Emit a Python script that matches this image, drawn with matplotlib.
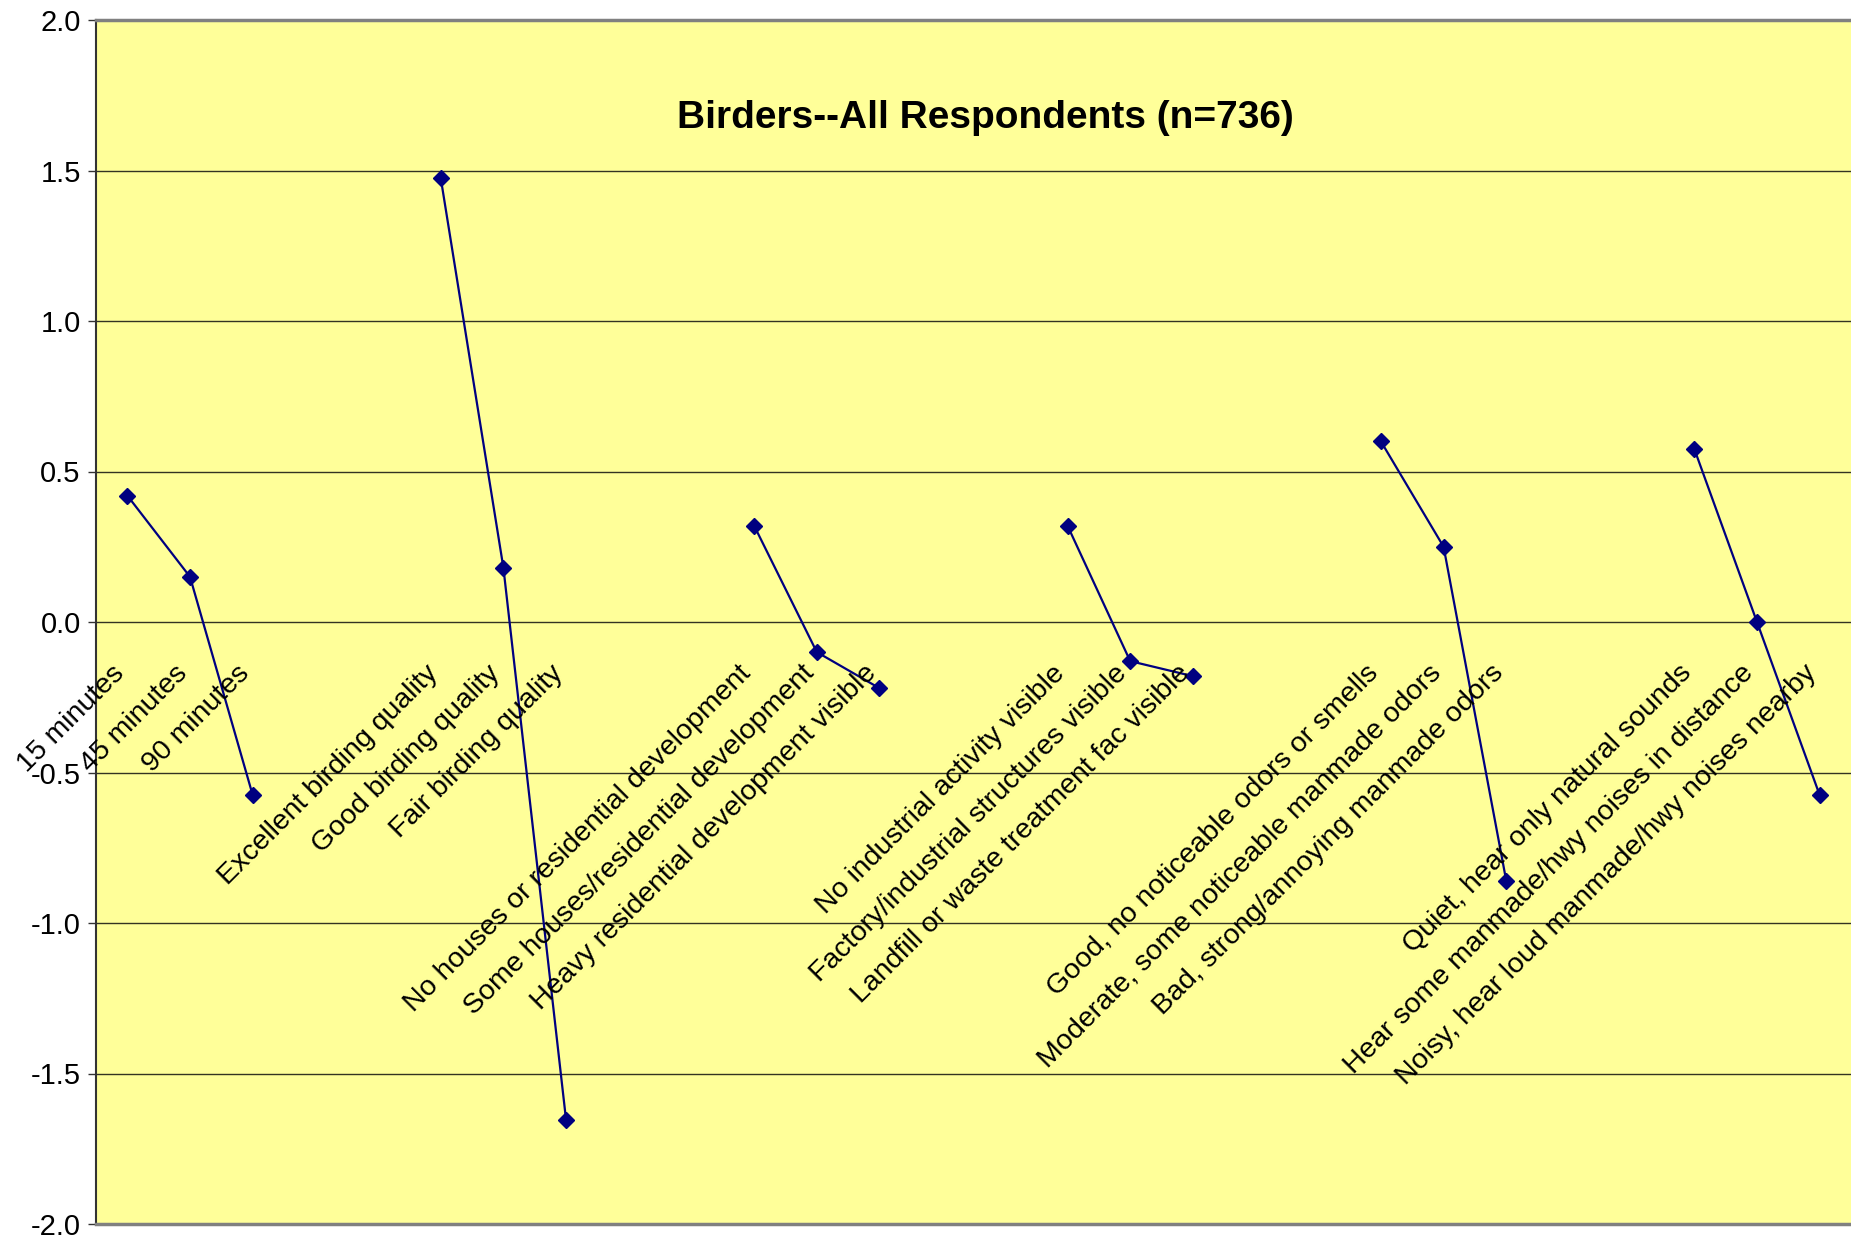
import numpy as np
import matplotlib
matplotlib.use("Agg")
import matplotlib.pyplot as plt
from matplotlib.font_manager import fontManager

title = "Birders--All Respondents (n=736)"

categories = [
    "15 minutes", "45 minutes", "90 minutes", "", "",
    "Excellent birding quality", "Good birding quality", "Fair birding quality", "", "",
    "No houses or residential development", "Some houses/residential development",
    "Heavy residential development visible", "", "",
    "No industrial activity visible", "Factory/industrial structures visible",
    "Landfill or waste treatment fac visible", "", "",
    "Good, no noticeable odors or smells", "Moderate, some noticeable manmade odors",
    "Bad, strong/annoying manmade odors", "", "",
    "Quiet, hear only natural sounds", "Hear some manmade/hwy noises in distance",
    "Noisy, hear loud manmade/hwy noises nearby",
]

values = [
    0.42, 0.15, -0.575, np.nan, np.nan,
    1.475, 0.18, -1.655, np.nan, np.nan,
    0.32, -0.10, -0.22, np.nan, np.nan,
    0.32, -0.13, -0.18, np.nan, np.nan,
    0.60, 0.25, -0.86, np.nan, np.nan,
    0.575, 0.00, -0.575,
]

yticks = [-2.0, -1.5, -1.0, -0.5, 0.0, 0.5, 1.0, 1.5, 2.0]

names = {f.name for f in fontManager.ttflist}
base = "Liberation Sans" if "Liberation Sans" in names else "DejaVu Sans"
narrow = "Liberation Sans Narrow" if "Liberation Sans Narrow" in names else base
plt.rcParams["font.family"] = [base, "DejaVu Sans"]

fig = plt.figure(figsize=(18.51, 12.37), dpi=100)
ax = fig.add_axes([96 / 1851, 13 / 1237, 1 - 96 / 1851, (1224 - 20) / 1237])
ax.set_facecolor("#FFFF99")

x = np.arange(len(categories))
ax.plot(x, values, color="#000080", lw=1.6, marker="D", ms=8.5, mec="#000080", mfc="#000080", zorder=3)

ax.set_xlim(-0.5, len(categories) - 0.5)
ax.set_ylim(-2.0, 2.0)
ax.set_yticks(yticks)
ax.set_yticklabels([f"{v:.1f}" for v in yticks], fontsize=21)
ax.tick_params(axis="y", direction="out", length=6, width=1, color="#333333", pad=5)
ax.set_xticks([])
for v in yticks:
    ax.axhline(v, color="#333322", lw=1, zorder=1)

ax.spines["right"].set_visible(False)
ax.spines["left"].set_color("#333333")
ax.spines["left"].set_linewidth(1.5)
ax.spines["top"].set_color("#808080")
ax.spines["top"].set_linewidth(2.5)
ax.spines["bottom"].set_color("#808080")
ax.spines["bottom"].set_linewidth(2.5)

for i, lab in enumerate(categories):
    if lab:
        ax.annotate(lab, xy=(i, 0), xycoords="data", xytext=(-5, -34), textcoords="offset points",
                    rotation=45, rotation_mode="anchor", ha="right", va="center",
                    fontsize=20.5, color="black", annotation_clip=False, zorder=4)

ax.text(0.507, 0.919, title, transform=ax.transAxes, ha="center", va="center",
        fontsize=28, fontweight="bold", family=[narrow, "DejaVu Sans"])

fig.savefig("out.png", dpi=100)
